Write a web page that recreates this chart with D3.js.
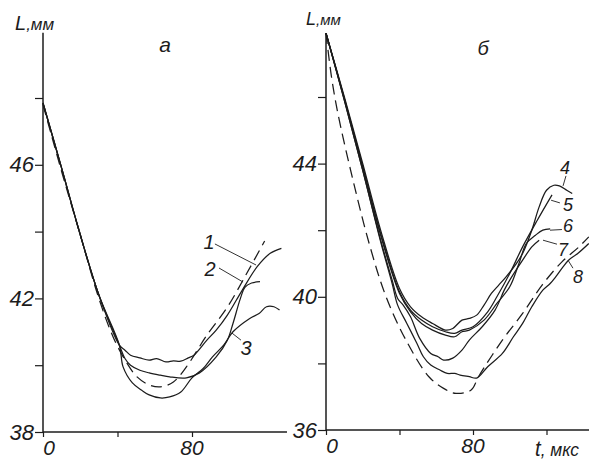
<!DOCTYPE html>
<html>
<head>
<meta charset="utf-8">
<script src="https://cdn.jsdelivr.net/npm/d3@7"></script>
<style>
body { margin: 0; background: #fff; }
text { font-family: "Liberation Sans", Arial, sans-serif; font-style: italic; fill: #1c1c1c; }
</style>
</head>
<body>
<script>
// panel a : t (mks) vs L (mm)
const yTicksA = [38, 40, 42, 44, 46, 48];
const yLabelsA = [38, 42, 46];
const xTicksA = [0, 40, 80];
const xLabelsA = [0, 80];

const curve1 = [[0,47.85],[10,45.9],[19,44.1],[30,42.1],[41,40.6],[44,40.45],[47,40.3],[52,40.22],[57,40.15],[61,40.2],[66,40.1],[70,40.13],[74,40.12],[78,40.22],[81,40.3],[88,40.75],[93,41.05],[99,41.5],[107,42.25],[115,42.95],[122,43.35],[128,43.5]];
const curve2 = [[0,47.85],[10,45.9],[19,44.1],[30,42.1],[41,40.6],[44,40.2],[47,40.0],[52,39.85],[57,39.77],[63,39.7],[68,39.65],[77,39.62],[84,39.77],[93,40.25],[99,40.75],[102,41.25],[106,42.0],[108.5,42.34],[112,42.46],[116.5,42.5]];
const curve3 = [[0,47.85],[10,45.9],[19,44.1],[30,42.1],[41,40.6],[43,39.95],[48,39.47],[53,39.25],[57,39.11],[63,39.02],[68,39.05],[74,39.2],[80,39.62],[86,39.9],[91,40.25],[97,40.6],[102,41.0],[111,41.4],[116,41.55],[120,41.75],[124,41.75],[127,41.65]];
const dashA = [[0,47.8],[10,45.8],[20,43.9],[30,42.0],[38,40.8],[45,40.07],[50.5,39.65],[57,39.41],[63,39.35],[70,39.5],[77,39.95],[88,40.9],[99,41.74],[109.5,42.76],[119,43.72]];

// panel б
const yTicksB = [36, 38, 40, 42, 44, 46];
const yLabelsB = [36, 40, 44];
const xTicksB = [0, 40, 80, 120];
const xLabelsB = [0, 80];

const curve4 = [[0,47.92],[10,46.0],[20,44.0],[30,41.95],[40,40.25],[46,39.7],[52,39.4],[58,39.2],[65,39.0],[69,39.05],[74,39.3],[78,39.35],[82,39.45],[86,39.75],[90,40.1],[94,40.35],[98,40.6],[103,40.95],[107,41.3],[112,42.0],[116,42.7],[120,43.2],[124,43.35],[127,43.33],[131,43.2],[134,43.1]];
const curve5 = [[0,47.92],[10,45.95],[20,43.9],[30,41.85],[40,40.15],[46,39.6],[52,39.3],[58,39.1],[65,38.95],[70,38.9],[74,39.0],[80,39.1],[88,39.55],[93,40.0],[100,40.7],[107,41.5],[115,42.3],[123,43.06]];
const curve6 = [[0,47.92],[10,45.95],[20,43.9],[30,41.8],[40,40.1],[46,39.55],[52,39.2],[58,39.0],[65,38.85],[70,38.8],[74,38.95],[78,39.0],[86,39.3],[93,39.8],[100,40.3],[105,41.0],[109,41.6],[114,41.85],[118,42.0],[122,42.04]];
const curve7 = [[0,47.92],[10,45.9],[20,43.8],[30,41.65],[36,40.5],[39,39.95],[42,39.75],[46,39.4],[51,38.75],[57,38.3],[61,38.2],[64,38.1],[69,38.16],[74,38.4],[78,38.7],[85,39.1],[92,39.6],[97,40.2],[100,40.5],[107,41.1],[112,41.5],[116,41.7]];
const curve8 = [[0,47.92],[10,45.9],[20,43.8],[30,41.6],[36,40.4],[39,39.75],[44,39.2],[49.5,38.6],[53,38.2],[57,37.95],[62,37.8],[66,37.7],[70,37.7],[73,37.65],[78,37.6],[82,37.56],[88,37.9],[96,38.3],[102,38.8],[107,39.2],[112,39.7],[118,40.2],[122,40.4],[125,40.6],[129,40.9],[132,41.1],[137,41.3],[143,41.6]];
const dashB = [[0,47.92],[3,46.6],[6.5,45.5],[14.7,43.5],[24,41.5],[32.7,40.0],[43.5,38.7],[56,37.6],[64,37.25],[70.7,37.1],[79,37.2],[83,37.6],[96,38.7],[107,39.5],[117.6,40.35],[128.4,41.05],[137.7,41.5],[143,41.8]];

// curve numbers: text position and leader line, in data units
const notesA = [
  {txt: "1", at: [89.1, 43.69], from: [92.3, 43.63], to: [114.4, 43.0]},
  {txt: "2", at: [89.7, 42.88], from: [94.5, 42.91], to: [107.4, 42.49]},
  {txt: "3", at: [109.0, 40.51], from: [101.5, 40.96], to: [106.3, 40.75]}
];
const notesB = [
  {txt: "4", at: [130.1, 43.9], from: [130.6, 43.63], to: [129, 43.33]},
  {txt: "5", at: [131.7, 42.78], from: [122.5, 42.9], to: [127.3, 42.82]},
  {txt: "6", at: [131.7, 42.16], from: [121.9, 42.0], to: [128.4, 42.02]},
  {txt: "7", at: [129, 41.45], from: [118.1, 41.7], to: [125.7, 41.58]},
  {txt: "8", at: [137.1, 40.62], from: [131.7, 41.1], to: [134.4, 40.86]}
];

const width = 589, height = 461;
const svg = d3.select("body").append("svg")
    .attr("width", width)
    .attr("height", height);

const ink = "#1c1c1c";

function label(x, y, txt, size, anchor, sx) {
  return svg.append("text")
      .attr("transform", `translate(${x},${y}) scale(${sx || 1},1)`)
      .attr("text-anchor", anchor || "middle")
      .attr("font-size", size)
      .text(txt);
}

function panel(x, y, o) {
  const g = svg.append("g");

  // y axis
  const ya = g.append("g")
      .attr("transform", `translate(${x(0)},0)`)
      .call(d3.axisLeft(y).tickValues(o.yTicks).tickSize(8).tickSizeOuter(0).tickPadding(1)
        .tickFormat(d => o.yLabels.includes(d) ? d : ""));
  ya.select(".domain").remove();
  ya.selectAll("line").attr("stroke", ink).attr("stroke-width", 1.2);
  ya.selectAll("text").attr("font-size", 22).attr("font-family", null);
  g.append("line")
      .attr("x1", x(0)).attr("x2", x(0))
      .attr("y1", y(o.yMin)).attr("y2", y(o.yTop))
      .attr("stroke", ink).attr("stroke-width", 1.5);

  // x axis
  const xa = g.append("g")
      .attr("transform", `translate(0,${y(o.yMin)})`)
      .call(d3.axisBottom(x).tickValues(o.xTicks).tickSize(5).tickSizeOuter(0).tickFormat(""));
  xa.select(".domain").remove();
  xa.selectAll("line").attr("stroke", ink).attr("stroke-width", 1.2);
  g.append("line")
      .attr("x1", x(0)).attr("x2", x(o.xEnd))
      .attr("y1", y(o.yMin)).attr("y2", y(o.yMin))
      .attr("stroke", ink).attr("stroke-width", 1.5);
  o.xLabels.forEach(v => label(x(v) + (v === 0 ? 6 : 0), y(o.yMin) + 23, v, 21));

  // curves
  const line = d3.line()
      .x(d => x(d[0]))
      .y(d => y(d[1]))
      .curve(d3.curveCatmullRom.alpha(0.5));
  o.solid.forEach(c => {
    g.append("path").attr("d", line(c))
        .attr("fill", "none").attr("stroke", ink).attr("stroke-width", 1.25);
  });
  g.append("path").attr("d", line(o.dashed))
      .attr("fill", "none").attr("stroke", ink).attr("stroke-width", 1.25)
      .attr("stroke-dasharray", "11,6");

  // curve numbers
  o.notes.forEach(n => {
    g.append("line")
        .attr("x1", x(n.from[0])).attr("y1", y(n.from[1]))
        .attr("x2", x(n.to[0])).attr("y2", y(n.to[1]))
        .attr("stroke", ink).attr("stroke-width", 0.9);
    label(x(n.at[0]), y(n.at[1]) + 7, n.txt, o.noteSize);
  });
}

const xA = d3.scaleLinear().domain([0, 80]).range([43, 192]);
const yA = d3.scaleLinear().domain([38, 48]).range([432, 98]);
const xB = d3.scaleLinear().domain([0, 80]).range([326, 473]);
const yB = d3.scaleLinear().domain([36, 46]).range([430, 97]);

panel(xA, yA, {yTicks: yTicksA, yLabels: yLabelsA, xTicks: xTicksA, xLabels: xLabelsA,
  yMin: 38, yTop: 49.95, xEnd: 131, noteSize: 20,
  solid: [curve1, curve2, curve3], dashed: dashA, notes: notesA});
panel(xB, yB, {yTicks: yTicksB, yLabels: yLabelsB, xTicks: xTicksB, xLabels: xLabelsB,
  yMin: 36, yTop: 47.92, xEnd: 143.5, noteSize: 18,
  solid: [curve4, curve5, curve6, curve7, curve8], dashed: dashB, notes: notesB});

// axis titles and panel letters
const tA = label(15, 30, "", 20, "start");
tA.append("tspan").text("L");
tA.append("tspan").attr("font-size", 17).text(",мм");
const tB = label(306, 25, "", 18, "start");
tB.append("tspan").text("L");
tB.append("tspan").attr("font-size", 15).text(",мм");
label(165, 52, "а", 21);
label(483, 55, "б", 20);
const tX = label(535, 456, "", 22, "start", 0.92);
tX.append("tspan").text("t");
tX.append("tspan").attr("font-size", 19).text(", мкс");
</script>
</body>
</html>
